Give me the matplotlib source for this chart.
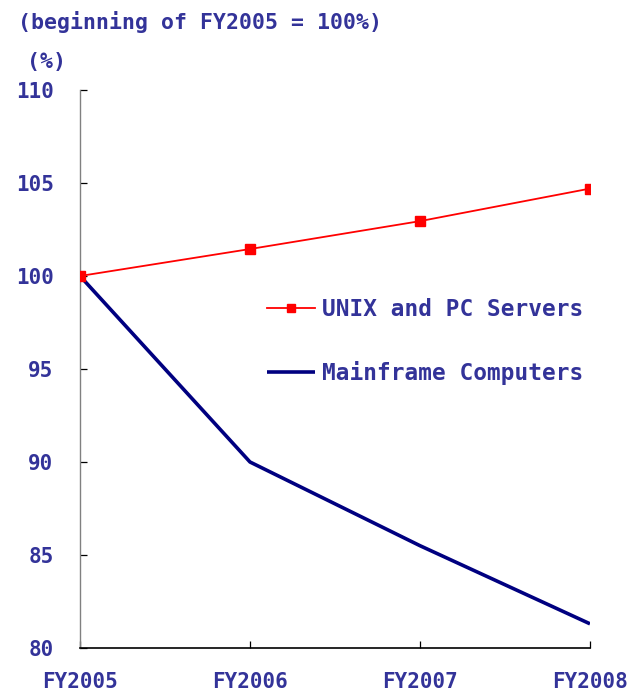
import matplotlib
matplotlib.use("Agg")
import matplotlib.pyplot as plt

# data
years = ["FY2005", "FY2006", "FY2007", "FY2008"]
unix_pc = [100.0, 101.45, 102.95, 104.7]
mainframe = [100.0, 90.0, 85.5, 81.3]
y_ticks = [80, 85, 90, 95, 100, 105, 110]

txt_color = "#333399"
font = "DejaVu Sans Mono"

fig = plt.figure(figsize=(6.33, 6.91), dpi=100)
ax = fig.add_axes([80/633, 1-648/691, 510/633, 558/691])

x = list(range(len(years)))
ax.plot(x, unix_pc, color="#ff0000", lw=1.3, marker="s", ms=7.5,
        label="UNIX and PC Servers", zorder=3)
ax.plot(x, mainframe, color="#000080", lw=2.6, solid_capstyle="butt",
        label="Mainframe Computers", zorder=2)

ax.set_xlim(0, 3)
ax.set_ylim(80, 110)
ax.set_xticks(x)
ax.set_xticklabels(years)
ax.set_yticks(y_ticks)

for s in ["top", "right"]:
    ax.spines[s].set_visible(False)
ax.spines["left"].set_color("#808080")
ax.spines["bottom"].set_color("black")
ax.spines["left"].set_linewidth(1.0)
ax.spines["bottom"].set_linewidth(1.2)

ax.tick_params(axis="both", direction="in", length=5, width=0.9,
               labelcolor=txt_color)
ax.tick_params(axis="y", pad=19)
ax.tick_params(axis="x", pad=17)
for lab in ax.get_xticklabels() + ax.get_yticklabels():
    lab.set_fontfamily(font)
    lab.set_fontweight("bold")
    lab.set_fontsize(15)

fig.text(18/633, 1-22/691, "(beginning of FY2005 = 100%)", color=txt_color,
         fontfamily=font, fontweight="bold", fontsize=15.5, va="center", ha="left")
fig.text(27/633, 1-62/691, "(%)", color=txt_color,
         fontfamily=font, fontweight="bold", fontsize=15.5, va="center", ha="left")

leg = ax.legend(loc="upper left", bbox_to_anchor=(256/633, 1-287/691),
                bbox_transform=fig.transFigure, frameon=False,
                prop={"family": font, "weight": "bold", "size": 16.4},
                handlelength=2.1, handletextpad=0.3, labelspacing=1.72,
                markerscale=0.7, borderpad=0)
for t in leg.get_texts():
    t.set_color(txt_color)

fig.savefig("out.png", dpi=100)
